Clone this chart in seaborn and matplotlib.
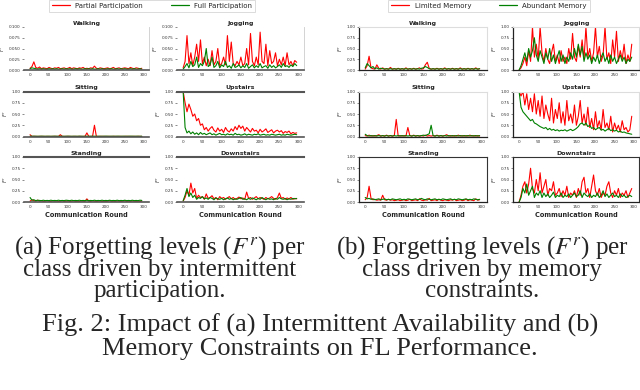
import matplotlib
matplotlib.use("Agg")
import matplotlib.pyplot as plt
from matplotlib.lines import Line2D
import numpy as np
import pandas as pd
import seaborn as sns

# ---------------- data ----------------
rounds = list(range(1, 300, 5))  # communication rounds sampled every 5
classes = ["Walking", "Jogging", "Sitting", "Upstairs", "Standing", "Downstairs"]
labels_a = ["Partial Participation", "Full Participation"]
labels_b = ["Limited Memory", "Abundant Memory"]
xticks = [0, 50, 100, 150, 200, 250, 300]

# (a) intermittent participation
walk_a_partial = [0.004,0.008,0.019,0.006,0.004,0.007,0.003,0.005,0.004,0.003,
                  0.006,0.004,0.003,0.005,0.004,0.006,0.003,0.004,0.005,0.003,
                  0.004,0.006,0.003,0.005,0.004,0.003,0.005,0.004,0.006,0.003,
                  0.004,0.003,0.005,0.004,0.009,0.004,0.003,0.005,0.004,0.003,
                  0.004,0.005,0.003,0.004,0.006,0.003,0.004,0.005,0.003,0.004,
                  0.005,0.004,0.003,0.006,0.004,0.003,0.005,0.004,0.003,0.004]
walk_a_full = [0.003,0.005,0.004,0.003,0.002,0.003,0.002,0.003,0.002,0.002,
               0.003,0.002,0.003,0.002,0.003,0.002,0.002,0.003,0.002,0.003,
               0.002,0.003,0.002,0.002,0.003,0.002,0.003,0.002,0.002,0.003,
               0.002,0.003,0.002,0.003,0.002,0.002,0.003,0.002,0.003,0.002,
               0.002,0.003,0.002,0.003,0.002,0.002,0.003,0.002,0.003,0.002,
               0.003,0.002,0.002,0.003,0.002,0.003,0.002,0.002,0.003,0.002]
jog_a_partial = [0.005,0.02,0.08,0.015,0.04,0.01,0.03,0.06,0.02,0.07,
                 0.015,0.03,0.01,0.025,0.01,0.045,0.012,0.02,0.05,0.01,
                 0.015,0.03,0.012,0.08,0.02,0.065,0.015,0.01,0.02,0.012,
                 0.03,0.01,0.015,0.05,0.012,0.085,0.02,0.01,0.03,0.012,
                 0.088,0.02,0.015,0.06,0.01,0.045,0.015,0.02,0.04,0.01,
                 0.025,0.012,0.03,0.01,0.04,0.012,0.02,0.01,0.022,0.018]
jog_a_full = [0.002,0.008,0.015,0.005,0.02,0.008,0.012,0.03,0.006,0.015,
              0.01,0.02,0.05,0.008,0.012,0.03,0.006,0.01,0.02,0.005,
              0.012,0.008,0.02,0.006,0.01,0.004,0.015,0.006,0.008,0.012,
              0.005,0.01,0.006,0.015,0.004,0.008,0.012,0.005,0.01,0.006,
              0.015,0.005,0.008,0.01,0.004,0.012,0.006,0.01,0.005,0.008,
              0.012,0.006,0.015,0.008,0.01,0.006,0.012,0.008,0.015,0.01]
sit_a_partial = [0.04,0.003,0.004,0.003,0.002,0.003,0.004,0.003,0.002,0.003,
                 0.003,0.002,0.003,0.004,0.003,0.002,0.04,0.003,0.002,0.003,
                 0.004,0.003,0.002,0.003,0.003,0.002,0.004,0.003,0.002,0.003,
                 0.08,0.003,0.002,0.003,0.25,0.003,0.002,0.003,0.004,0.003,
                 0.002,0.003,0.003,0.002,0.004,0.003,0.002,0.003,0.003,0.002,
                 0.003,0.004,0.003,0.002,0.003,0.003,0.002,0.004,0.003,0.002]
sit_a_full = [0.008,0.006,0.007,0.006,0.005,0.006,0.007,0.006,0.005,0.006,
              0.006,0.005,0.006,0.007,0.006,0.005,0.006,0.006,0.005,0.006,
              0.007,0.006,0.005,0.006,0.006,0.005,0.007,0.006,0.005,0.006,
              0.006,0.005,0.006,0.007,0.006,0.005,0.006,0.006,0.005,0.006,
              0.007,0.006,0.005,0.006,0.006,0.005,0.007,0.006,0.005,0.006,
              0.006,0.005,0.006,0.007,0.006,0.005,0.006,0.006,0.005,0.006]
up_a_partial = [1.0,0.75,0.55,0.72,0.6,0.45,0.5,0.35,0.4,0.25,
                0.28,0.15,0.2,0.12,0.18,0.22,0.14,0.1,0.19,0.12,
                0.16,0.09,0.2,0.13,0.1,0.17,0.12,0.22,0.15,0.25,
                0.18,0.23,0.12,0.2,0.15,0.1,0.18,0.12,0.14,0.08,
                0.16,0.1,0.13,0.17,0.09,0.12,0.15,0.08,0.12,0.14,
                0.1,0.13,0.07,0.11,0.09,0.12,0.06,0.09,0.07,0.08]
up_a_full = [1.0,0.2,0.08,0.12,0.06,0.1,0.05,0.08,0.04,0.09,
             0.05,0.07,0.04,0.06,0.08,0.04,0.06,0.03,0.05,0.07,
             0.04,0.05,0.03,0.06,0.04,0.05,0.03,0.07,0.04,0.05,
             0.03,0.04,0.06,0.03,0.05,0.04,0.03,0.05,0.04,0.06,
             0.03,0.04,0.05,0.03,0.04,0.03,0.05,0.04,0.03,0.04,
             0.05,0.03,0.04,0.03,0.05,0.04,0.03,0.04,0.05,0.04]
stand_a_partial = [0.02,0.05,0.03,0.02,0.04,0.02,0.03,0.015,0.02,0.03,
                   0.02,0.015,0.03,0.02,0.025,0.015,0.02,0.03,0.015,0.02,
                   0.025,0.015,0.02,0.03,0.015,0.02,0.015,0.025,0.02,0.015,
                   0.07,0.02,0.015,0.03,0.02,0.015,0.02,0.025,0.015,0.02,
                   0.015,0.02,0.03,0.015,0.02,0.015,0.025,0.02,0.015,0.02,
                   0.03,0.015,0.02,0.015,0.025,0.02,0.015,0.02,0.015,0.02]
stand_a_full = [0.1,0.04,0.05,0.03,0.04,0.035,0.03,0.04,0.03,0.035,
                0.03,0.04,0.03,0.035,0.03,0.04,0.03,0.035,0.03,0.04,
                0.035,0.03,0.04,0.03,0.035,0.03,0.04,0.03,0.035,0.03,
                0.04,0.03,0.035,0.03,0.04,0.03,0.035,0.03,0.04,0.03,
                0.035,0.03,0.04,0.03,0.035,0.03,0.04,0.03,0.035,0.03,
                0.04,0.03,0.035,0.03,0.04,0.03,0.035,0.03,0.04,0.035]
down_a_partial = [0.02,0.1,0.25,0.15,0.42,0.2,0.3,0.08,0.15,0.1,
                  0.12,0.06,0.18,0.08,0.1,0.14,0.07,0.1,0.05,0.12,
                  0.08,0.1,0.06,0.09,0.12,0.07,0.1,0.06,0.08,0.11,
                  0.07,0.09,0.06,0.22,0.08,0.1,0.06,0.09,0.12,0.07,
                  0.1,0.08,0.06,0.1,0.07,0.09,0.12,0.08,0.06,0.1,
                  0.2,0.08,0.1,0.06,0.09,0.07,0.1,0.06,0.08,0.07]
down_a_full = [0.03,0.15,0.3,0.12,0.2,0.1,0.15,0.06,0.1,0.08,
               0.12,0.07,0.09,0.06,0.1,0.08,0.05,0.09,0.07,0.06,
               0.08,0.05,0.07,0.09,0.06,0.08,0.05,0.07,0.06,0.08,
               0.1,0.06,0.07,0.05,0.08,0.06,0.09,0.07,0.05,0.08,
               0.06,0.1,0.07,0.05,0.08,0.06,0.07,0.05,0.08,0.06,
               0.1,0.07,0.06,0.08,0.05,0.07,0.06,0.08,0.07,0.08]

# (b) memory constraints
walk_b_limited = [0.02,0.1,0.32,0.05,0.03,0.02,0.12,0.04,0.02,0.05,
                  0.02,0.03,0.02,0.06,0.02,0.03,0.02,0.04,0.02,0.03,
                  0.02,0.05,0.02,0.03,0.02,0.04,0.02,0.03,0.05,0.02,
                  0.03,0.12,0.18,0.04,0.02,0.03,0.02,0.04,0.02,0.03,
                  0.02,0.05,0.02,0.03,0.02,0.04,0.02,0.03,0.02,0.05,
                  0.02,0.03,0.02,0.04,0.02,0.03,0.02,0.05,0.02,0.03]
walk_b_abundant = [0.05,0.15,0.1,0.05,0.08,0.03,0.05,0.02,0.04,0.03,
                   0.02,0.03,0.02,0.03,0.02,0.03,0.02,0.03,0.02,0.03,
                   0.02,0.03,0.02,0.03,0.02,0.03,0.02,0.03,0.02,0.04,
                   0.05,0.08,0.06,0.03,0.02,0.03,0.02,0.03,0.02,0.03,
                   0.02,0.03,0.02,0.03,0.02,0.03,0.02,0.03,0.02,0.03,
                   0.02,0.03,0.02,0.03,0.02,0.03,0.02,0.03,0.02,0.03]
jog_b_limited = [0.0,0.05,0.15,0.3,0.1,0.45,0.2,1.0,0.3,0.6,
                 0.25,1.0,0.4,0.2,0.5,0.25,0.15,0.4,0.6,0.2,
                 0.35,0.15,0.45,0.2,0.3,0.15,0.5,0.25,0.85,0.3,
                 0.2,0.55,0.3,0.7,0.25,1.0,0.3,0.5,0.2,0.4,
                 1.0,0.3,0.55,0.2,0.35,1.0,0.25,0.4,0.15,0.7,
                 0.3,0.9,0.2,0.45,0.25,0.6,0.15,0.35,0.2,0.6]
jog_b_abundant = [0.0,0.1,0.25,0.4,0.2,0.5,0.3,0.45,0.75,0.35,
                  0.2,0.45,0.3,0.15,0.4,0.25,0.5,0.2,0.35,0.15,
                  0.3,0.45,0.2,0.35,0.15,0.3,0.2,0.4,0.25,0.5,
                  0.3,0.6,0.35,0.55,0.2,0.4,0.25,0.35,0.15,0.3,
                  0.2,0.35,0.15,0.3,0.4,0.2,0.3,0.15,0.35,0.2,
                  0.3,0.15,0.25,0.35,0.2,0.3,0.15,0.25,0.2,0.3]
sit_b_limited = [0.02,0.01,0.03,0.01,0.02,0.01,0.02,0.04,0.01,0.02,
                 0.01,0.03,0.01,0.02,0.01,0.02,0.38,0.01,0.02,0.01,
                 0.02,0.01,0.2,0.02,0.01,0.03,0.01,0.02,0.01,0.02,
                 0.01,0.03,0.01,0.02,0.01,0.02,0.01,0.03,0.01,0.02,
                 0.01,0.02,0.04,0.01,0.02,0.01,0.02,0.01,0.03,0.01,
                 0.02,0.01,0.02,0.01,0.03,0.01,0.02,0.01,0.02,0.01]
sit_b_abundant = [0.05,0.02,0.01,0.02,0.01,0.02,0.01,0.02,0.01,0.02,
                  0.01,0.02,0.01,0.02,0.01,0.02,0.01,0.02,0.01,0.02,
                  0.01,0.02,0.01,0.02,0.01,0.02,0.01,0.02,0.01,0.02,
                  0.03,0.02,0.04,0.06,0.25,0.02,0.01,0.02,0.01,0.02,
                  0.01,0.02,0.01,0.02,0.01,0.02,0.01,0.02,0.01,0.02,
                  0.01,0.02,0.01,0.02,0.01,0.02,0.01,0.02,0.01,0.02]
up_b_limited = [1.0,0.9,1.0,0.7,0.95,0.6,0.85,0.55,0.95,0.5,
                0.8,0.45,0.9,0.4,0.7,0.5,0.35,0.85,0.3,0.6,
                0.4,0.75,0.3,0.55,0.25,0.8,0.35,0.5,0.3,0.7,
                0.25,0.45,0.8,0.3,0.5,0.25,0.65,0.2,0.4,0.15,
                0.55,0.2,0.35,0.15,0.6,0.2,0.3,0.15,0.45,0.1,
                0.3,0.15,0.25,0.1,0.35,0.15,0.2,0.1,0.15,0.45]
up_b_abundant = [1.0,0.65,0.55,0.5,0.45,0.4,0.35,0.38,0.3,0.28,
                 0.25,0.22,0.2,0.18,0.2,0.15,0.18,0.14,0.16,0.13,
                 0.15,0.12,0.14,0.13,0.15,0.12,0.14,0.16,0.13,0.15,
                 0.18,0.22,0.28,0.3,0.25,0.3,0.22,0.25,0.18,0.2,
                 0.15,0.18,0.2,0.14,0.16,0.12,0.15,0.18,0.13,0.15,
                 0.12,0.14,0.1,0.12,0.09,0.1,0.08,0.07,0.06,0.05]
stand_b_limited = [0.05,0.1,0.35,0.08,0.05,0.06,0.04,0.05,0.04,0.15,
                   0.05,0.04,0.06,0.04,0.05,0.03,0.04,0.05,0.03,0.04,
                   0.05,0.03,0.04,0.06,0.03,0.04,0.05,0.03,0.07,0.04,
                   0.03,0.05,0.04,0.08,0.03,0.04,0.05,0.03,0.06,0.04,
                   0.03,0.05,0.04,0.03,0.05,0.04,0.06,0.03,0.04,0.05,
                   0.03,0.04,0.06,0.03,0.05,0.04,0.03,0.07,0.04,0.05]
stand_b_abundant = [0.1,0.07,0.08,0.06,0.07,0.05,0.06,0.07,0.05,0.06,
                    0.07,0.05,0.06,0.05,0.07,0.06,0.05,0.06,0.07,0.05,
                    0.06,0.05,0.07,0.06,0.05,0.06,0.07,0.05,0.06,0.08,
                    0.06,0.05,0.07,0.06,0.05,0.06,0.07,0.05,0.06,0.05,
                    0.07,0.06,0.05,0.06,0.07,0.05,0.06,0.05,0.07,0.06,
                    0.05,0.06,0.07,0.05,0.06,0.05,0.07,0.06,0.05,0.06]
down_b_limited = [0.0,0.15,0.35,0.45,0.2,0.4,0.75,0.3,0.2,0.5,
                  0.25,0.65,0.2,0.35,0.5,0.15,0.3,0.25,0.45,0.15,
                  0.2,0.3,0.12,0.25,0.15,0.35,0.1,0.2,0.15,0.25,
                  0.1,0.3,0.15,0.45,0.55,0.2,0.3,0.1,0.35,0.6,
                  0.25,0.15,0.3,0.1,0.2,0.15,0.35,0.45,0.2,0.1,
                  0.25,0.15,0.3,0.1,0.2,0.15,0.25,0.1,0.2,0.3]
down_b_abundant = [0.0,0.1,0.3,0.2,0.4,0.15,0.25,0.35,0.1,0.2,
                   0.15,0.25,0.1,0.2,0.12,0.18,0.1,0.15,0.22,0.1,
                   0.15,0.12,0.2,0.1,0.15,0.12,0.18,0.1,0.15,0.2,
                   0.12,0.15,0.25,0.1,0.2,0.15,0.12,0.18,0.1,0.15,
                   0.12,0.2,0.1,0.15,0.25,0.12,0.18,0.1,0.15,0.2,
                   0.12,0.15,0.1,0.18,0.12,0.15,0.1,0.12,0.15,0.12]

series_a = {"Walking": (walk_a_partial, walk_a_full), "Jogging": (jog_a_partial, jog_a_full),
            "Sitting": (sit_a_partial, sit_a_full), "Upstairs": (up_a_partial, up_a_full),
            "Standing": (stand_a_partial, stand_a_full), "Downstairs": (down_a_partial, down_a_full)}
series_b = {"Walking": (walk_b_limited, walk_b_abundant), "Jogging": (jog_b_limited, jog_b_abundant),
            "Sitting": (sit_b_limited, sit_b_abundant), "Upstairs": (up_b_limited, up_b_abundant),
            "Standing": (stand_b_limited, stand_b_abundant), "Downstairs": (down_b_limited, down_b_abundant)}

# ---------------- figure ----------------
sns.set_theme(style="white")
plt.rcParams["font.family"] = ["DejaVu Sans"]
plt.rcParams["mathtext.fontset"] = "dejavusans"

W, H = 640, 390
fig = plt.figure(figsize=(6.4, 3.9), dpi=100)

def add_ax(left, top, width, height):
    return fig.add_axes([left / W, 1 - (top + height) / H, width / W, height / H])

rows = [(27, 43), (91.5, 45), (157, 45)]
cols_a = [(24, 125), (177, 127)]
cols_b = [(359, 128), (513, 126)]
palette = ["red", "green"]

def draw_panel(series, labels, cols, part):
    for idx, cls in enumerate(classes):
        r, c = divmod(idx, 2)
        top, h = rows[r]
        left, w = cols[c]
        ax = add_ax(left, top, w, h)
        red, green = series[cls]
        df = pd.DataFrame({"round": rounds * 2, "F": red + green,
                           "series": [labels[0]] * len(rounds) + [labels[1]] * len(rounds)})
        sns.lineplot(data=df, x="round", y="F", hue="series", hue_order=labels,
                     palette=palette, linewidth=0.8, ax=ax, legend=False)
        ax.set_xlim(-15, 315)
        ax.set_xticks(xticks)
        if part == "a" and r == 0:
            ax.set_ylim(0, 0.1)
            ax.set_yticks([0, 0.025, 0.05, 0.075, 0.1])
            ax.set_yticklabels(["0.000", "0.025", "0.050", "0.075", "0.100"])
        else:
            ax.set_ylim(0, 1.0)
            ax.set_yticks([0, 0.25, 0.5, 0.75, 1.0])
            ax.set_yticklabels(["0.00", "0.25", "0.50", "0.75", "1.00"])
        ax.tick_params(axis="both", labelsize=3, length=1.5, width=0.4, pad=1,
                       colors="#333333", left=True, bottom=False)
        ax.set_title(cls, fontsize=4.5, fontweight="bold", pad=1.5)
        ax.set_ylabel("$F^r$", fontsize=3.5, labelpad=1)
        ax.set_xlabel("Communication Round" if r == 2 else "", fontsize=4.7,
                      fontweight="bold", labelpad=1.5)
        if part == "a":
            ax.spines["left"].set_visible(False)
            ax.spines["bottom"].set_color("#555555")
            ax.spines["bottom"].set_linewidth(1.2)
            if r == 0:
                ax.spines["top"].set_visible(False)
                ax.spines["right"].set_color("#cccccc")
                ax.spines["right"].set_linewidth(0.6)
            else:
                ax.spines["top"].set_color("#555555")
                ax.spines["top"].set_linewidth(1.5)
                ax.spines["right"].set_visible(False)
        else:
            ax.spines["left"].set_color("#222222")
            ax.spines["left"].set_linewidth(0.9)
            ax.spines["bottom"].set_color("#222222")
            ax.spines["bottom"].set_linewidth(0.9)
            col = "#dddddd" if r < 2 else "#333333"
            for s in ("top", "right"):
                ax.spines[s].set_color(col)
                ax.spines[s].set_linewidth(0.8)

draw_panel(series_a, labels_a, cols_a, "a")
draw_panel(series_b, labels_b, cols_b, "b")

def add_legend(labels, cx):
    handles = [Line2D([], [], color=c, linewidth=0.9) for c in palette]
    leg = fig.legend(handles, labels, loc="upper center", bbox_to_anchor=(cx / W, 1.0),
                     ncol=2, fontsize=5, frameon=True, handlelength=2.6,
                     columnspacing=4, borderaxespad=0, fancybox=False,
                     borderpad=0.4, handletextpad=0.8)
    leg.get_frame().set_edgecolor("#cccccc")
    leg.get_frame().set_linewidth(0.6)

add_legend(labels_a, 152)
add_legend(labels_b, 489)

serif = "Liberation Serif"
plt.rcParams["mathtext.fontset"] = "stix"
fig.text(160 / W, 1 - 268 / H,
         "(a) Forgetting levels ($F^r$) per\nclass driven by intermittent\nparticipation.",
         ha="center", va="center", fontsize=18, family=serif, linespacing=0.9)
fig.text(482 / W, 1 - 268 / H,
         "(b) Forgetting levels ($F^r$) per\nclass driven by memory\nconstraints.",
         ha="center", va="center", fontsize=18, family=serif, linespacing=0.9)
fig.text(320 / W, 1 - 337 / H,
         "Fig. 2: Impact of (a) Intermittent Availability and (b)\nMemory Constraints on FL Performance.",
         ha="center", va="center", fontsize=19, family=serif, linespacing=1.0)

fig.savefig("out.png", dpi=100)
